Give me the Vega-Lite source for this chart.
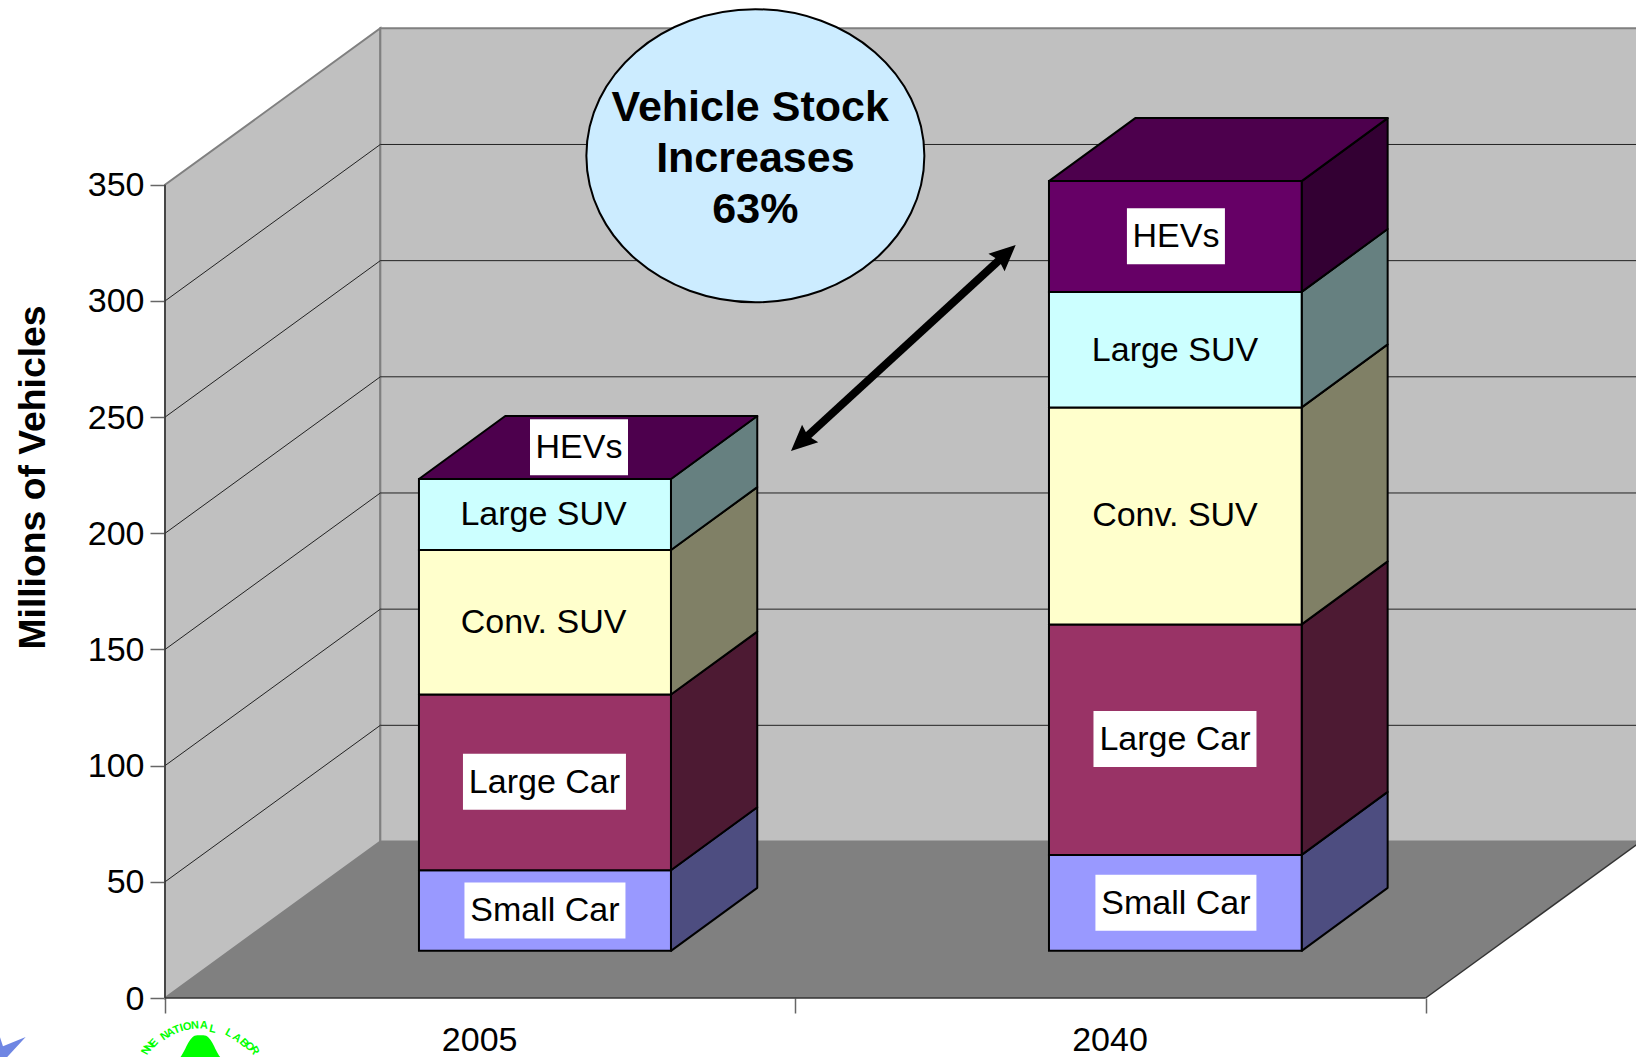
{
"$schema":"https://vega.github.io/schema/vega-lite/v6.json",
"width":1471,"height":998,
"autosize":{"type":"none"},
"padding":{"left":165,"top":0,"right":0,"bottom":59},
"background":"white",
"config":{"view":{"stroke":null},"font":"Liberation Sans","axis":{"grid":false}},
"datasets":{
"walls":[
{"wall":"left","x":0,"lo":0,"hi":350},{"wall":"left","x":0.3416,"lo":67.36,"hi":417.36},
{"wall":"back","x":0.3416,"lo":67.36,"hi":417.36},{"wall":"back","x":2.3416,"lo":67.36,"hi":417.36}],
"floor":[{"x":0,"lo":0,"hi":0},{"x":0.3416,"lo":0,"hi":67.36},{"x":2,"lo":0,"hi":67.36},{"x":2.3416,"lo":67.36,"hi":67.36}],
"grid":[
{"x":0,"x2":0.3416,"y":50,"y2":117.36},{"x":0.3416,"x2":2.3416,"y":117.36,"y2":117.36},
{"x":0,"x2":0.3416,"y":100,"y2":167.36},{"x":0.3416,"x2":2.3416,"y":167.36,"y2":167.36},
{"x":0,"x2":0.3416,"y":150,"y2":217.36},{"x":0.3416,"x2":2.3416,"y":217.36,"y2":217.36},
{"x":0,"x2":0.3416,"y":200,"y2":267.36},{"x":0.3416,"x2":2.3416,"y":267.36,"y2":267.36},
{"x":0,"x2":0.3416,"y":250,"y2":317.36},{"x":0.3416,"x2":2.3416,"y":317.36,"y2":317.36},
{"x":0,"x2":0.3416,"y":300,"y2":367.36},{"x":0.3416,"x2":2.3416,"y":367.36,"y2":367.36}],
"edges":[{"x":0,"x2":0,"y":0,"y2":350},{"x":0,"x2":2,"y":0,"y2":0},{"x":2,"x2":2.3416,"y":0,"y2":67.36}],
"front":[
{"year":"2005","type":"Small Car","xL":0.4029,"xR":0.8027,"lo":20.3,"hi":55.0},
{"year":"2005","type":"Large Car","xL":0.4029,"xR":0.8027,"lo":55.0,"hi":130.6},
{"year":"2005","type":"Conv. SUV","xL":0.4029,"xR":0.8027,"lo":130.6,"hi":192.8},
{"year":"2005","type":"Large SUV","xL":0.4029,"xR":0.8027,"lo":192.8,"hi":223.4},
{"year":"2040","type":"Small Car","xL":1.4024,"xR":1.8033,"lo":20.3,"hi":61.6},
{"year":"2040","type":"Large Car","xL":1.4024,"xR":1.8033,"lo":61.6,"hi":160.8},
{"year":"2040","type":"Conv. SUV","xL":1.4024,"xR":1.8033,"lo":160.8,"hi":254.2},
{"year":"2040","type":"Large SUV","xL":1.4024,"xR":1.8033,"lo":254.2,"hi":303.9},
{"year":"2040","type":"HEVs","xL":1.4024,"xR":1.8033,"lo":303.9,"hi":351.6}],
"side":[
{"year":"2005","type":"Small Car","x":0.8027,"lo":20.3,"hi":55.0},{"year":"2005","type":"Small Car","x":0.9396,"lo":47.4,"hi":82.1},
{"year":"2005","type":"Large Car","x":0.8027,"lo":55.0,"hi":130.6},{"year":"2005","type":"Large Car","x":0.9396,"lo":82.1,"hi":157.7},
{"year":"2005","type":"Conv. SUV","x":0.8027,"lo":130.6,"hi":192.8},{"year":"2005","type":"Conv. SUV","x":0.9396,"lo":157.7,"hi":219.9},
{"year":"2005","type":"Large SUV","x":0.8027,"lo":192.8,"hi":223.4},{"year":"2005","type":"Large SUV","x":0.9396,"lo":219.9,"hi":250.5},
{"year":"2040","type":"Small Car","x":1.8033,"lo":20.3,"hi":61.6},{"year":"2040","type":"Small Car","x":1.9397,"lo":47.4,"hi":88.7},
{"year":"2040","type":"Large Car","x":1.8033,"lo":61.6,"hi":160.8},{"year":"2040","type":"Large Car","x":1.9397,"lo":88.7,"hi":187.9},
{"year":"2040","type":"Conv. SUV","x":1.8033,"lo":160.8,"hi":254.2},{"year":"2040","type":"Conv. SUV","x":1.9397,"lo":187.9,"hi":281.3},
{"year":"2040","type":"Large SUV","x":1.8033,"lo":254.2,"hi":303.9},{"year":"2040","type":"Large SUV","x":1.9397,"lo":281.3,"hi":331.0},
{"year":"2040","type":"HEVs","x":1.8033,"lo":303.9,"hi":351.6},{"year":"2040","type":"HEVs","x":1.9397,"lo":331.0,"hi":378.7}],
"top":[
{"year":"2005","x":0.4029,"lo":223.4,"hi":223.4},{"year":"2005","x":0.5398,"lo":223.4,"hi":250.5},{"year":"2005","x":0.8027,"lo":223.4,"hi":250.5},{"year":"2005","x":0.9396,"lo":250.5,"hi":250.5},
{"year":"2040","x":1.4024,"lo":351.6,"hi":351.6},{"year":"2040","x":1.5393,"lo":351.6,"hi":378.7},{"year":"2040","x":1.8033,"lo":351.6,"hi":378.7},{"year":"2040","x":1.9397,"lo":378.7,"hi":378.7}],
"labels":[
{"label":"Small Car","x":0.6028,"y":37.7},{"label":"Large Car","x":0.602,"y":93.1},{"label":"Conv. SUV","x":0.6006,"y":161.7},{"label":"Large SUV","x":0.6006,"y":208.4},{"label":"HEVs","x":0.6568,"y":237.0},
{"label":"HEVs","x":1.6038,"y":327.9},{"label":"Large SUV","x":1.6023,"y":279.0},{"label":"Conv. SUV","x":1.6023,"y":208.0},{"label":"Large Car","x":1.6023,"y":111.5},{"label":"Small Car","x":1.6038,"y":41.0}],
"callout":[{"text":"Vehicle Stock","x":0.9284,"y":383.6},{"text":"Increases","x":0.9366,"y":361.6},{"text":"63%","x":0.9366,"y":339.6}],
"logoText":[
{"t":"N","x":-0.0295,"y":-22.6,"a":-61},{"t":"N","x":-0.0238,"y":-21.0,"a":-53},{"t":"E","x":-0.0175,"y":-19.5,"a":-48},
{"t":"N","x":0,"y":-16.4,"a":-35},{"t":"A","x":0.009,"y":-14.9,"a":-28},{"t":"T","x":0.0186,"y":-13.8,"a":-22},{"t":"I","x":0.0265,"y":-13.0,"a":-17},{"t":"O","x":0.0354,"y":-12.4,"a":-12},{"t":"N","x":0.0476,"y":-11.9,"a":-5},{"t":"A","x":0.0619,"y":-11.9,"a":4},{"t":"L","x":0.0757,"y":-13.5,"a":13},
{"t":"L","x":0.1015,"y":-15.2,"a":29},{"t":"A","x":0.1138,"y":-17.3,"a":38},{"t":"B","x":0.1253,"y":-19.5,"a":46},{"t":"O","x":0.1335,"y":-21.0,"a":54},{"t":"R","x":0.1415,"y":-22.6,"a":62}]
},
"layer":[
{"data":{"name":"walls"},"mark":{"type":"area","fill":"#C0C0C0","stroke":"#808080","strokeWidth":2},
 "encoding":{"x":{"field":"x","type":"quantitative","scale":{"domain":[0,2.3337],"nice":false,"zero":false},
   "axis":{"values":[0,0.5,1,1.5,2],"title":null,"domain":false,"grid":false,"tickSize":15,"tickWidth":1.5,"tickColor":"#666666","tickOpacity":{"expr":"datum.value==0.5||datum.value==1.5?0:1"},"labelExpr":"datum.value==0.5?'2005':datum.value==1.5?'2040':''","labelFontSize":34,"labelColor":"black","labelFont":"Liberation Sans","labelOverlap":false,"labelPadding":10,"labelOffset":-1,"labelFlush":false}},
  "y":{"field":"lo","type":"quantitative","stack":null,"scale":{"domain":[0,429.54],"nice":false},
   "axis":{"values":[0,50,100,150,200,250,300,350],"domain":false,"grid":false,"tickSize":15,"tickWidth":1.5,"tickColor":"#666666","labelFontSize":34,"labelColor":"black","labelFont":"Liberation Sans","labelPadding":6,"labelOffset":1,"title":"Millions of Vehicles","titleFont":"Liberation Sans","titleFontSize":37.3,"titleFontWeight":"bold","titleColor":"black","titleX":-132,"titleY":477,"titleAnchor":"middle","titleBaseline":"middle","titleAngle":-90}},
  "y2":{"field":"hi"},"detail":{"field":"wall"}}},
{"data":{"name":"floor"},"mark":{"type":"area","fill":"#808080"},
 "encoding":{"x":{"field":"x","type":"quantitative"},"y":{"field":"lo","type":"quantitative","stack":null},"y2":{"field":"hi"}}},
{"data":{"name":"grid"},"mark":{"type":"rule","color":"#222222","strokeWidth":1},
 "encoding":{"x":{"field":"x","type":"quantitative"},"x2":{"field":"x2"},"y":{"field":"y","type":"quantitative"},"y2":{"field":"y2"}}},
{"data":{"name":"edges"},"mark":{"type":"rule","color":"#333333","strokeWidth":1.5},
 "encoding":{"x":{"field":"x","type":"quantitative"},"x2":{"field":"x2"},"y":{"field":"y","type":"quantitative"},"y2":{"field":"y2"}}},
{"data":{"name":"side"},"mark":{"type":"area","stroke":"black","strokeWidth":2,"strokeJoin":"round"},
 "encoding":{"x":{"field":"x","type":"quantitative"},"y":{"field":"lo","type":"quantitative","stack":null},"y2":{"field":"hi"},"detail":{"field":"year"},
  "color":{"field":"type","type":"nominal","legend":null,"scale":{"domain":["Small Car","Large Car","Conv. SUV","Large SUV","HEVs"],"range":["#4D4D80","#4D1A33","#808066","#668080","#330033"]}}}},
{"data":{"name":"top"},"mark":{"type":"area","fill":"#4D004D","stroke":"black","strokeWidth":2,"strokeJoin":"round"},
 "encoding":{"x":{"field":"x","type":"quantitative"},"y":{"field":"lo","type":"quantitative","stack":null},"y2":{"field":"hi"},"detail":{"field":"year"}}},
{"data":{"name":"front"},"mark":{"type":"rect","stroke":"black","strokeWidth":2},
 "encoding":{"x":{"field":"xL","type":"quantitative"},"x2":{"field":"xR"},"y":{"field":"lo","type":"quantitative"},"y2":{"field":"hi"},
  "color":{"field":"type","type":"nominal","legend":null,"scale":{"domain":["Small Car","Large Car","Conv. SUV","Large SUV","HEVs"],"range":["#9999FF","#993366","#FFFFCC","#CCFFFF","#660066"]}}}},
{"data":{"name":"labels"},"transform":[{"filter":"datum.label=='HEVs'"}],"mark":{"type":"rect","fill":"white","width":98,"height":56},
 "encoding":{"x":{"field":"x","type":"quantitative"},"y":{"field":"y","type":"quantitative"}}},
{"data":{"name":"labels"},"transform":[{"filter":"datum.label=='Large Car'"}],"mark":{"type":"rect","fill":"white","width":163,"height":56},
 "encoding":{"x":{"field":"x","type":"quantitative"},"y":{"field":"y","type":"quantitative"}}},
{"data":{"name":"labels"},"transform":[{"filter":"datum.label=='Small Car'"}],"mark":{"type":"rect","fill":"white","width":161,"height":56},
 "encoding":{"x":{"field":"x","type":"quantitative"},"y":{"field":"y","type":"quantitative"}}},
{"data":{"name":"labels"},"mark":{"type":"text","fontSize":34,"font":"Liberation Sans","color":"black","align":"center","baseline":"middle","dy":1},
 "encoding":{"x":{"field":"x","type":"quantitative"},"y":{"field":"y","type":"quantitative"},"text":{"field":"label"}}},
{"data":{"values":[{"x":0.9366,"y":362.5}]},"mark":{"type":"point","filled":false,"fill":"#CCECFF","fillOpacity":1,"stroke":"black","strokeWidth":2,"opacity":1,"size":114244,"shape":"M -1 0 A 1 0.867 0 1 1 1 0 A 1 0.867 0 1 1 -1 0 Z"},
 "encoding":{"x":{"field":"x","type":"quantitative"},"y":{"field":"y","type":"quantitative"}}},
{"data":{"name":"callout"},"mark":{"type":"text","fontSize":43,"fontWeight":"bold","font":"Liberation Sans","color":"black","align":"center","baseline":"middle","dy":1},
 "encoding":{"x":{"field":"x","type":"quantitative"},"y":{"field":"y","type":"quantitative"},"text":{"field":"text"}}},
{"data":{"values":[{"x":1.0048,"y":238.3,"x2":1.3379,"y2":321.2}]},"mark":{"type":"rule","color":"black","strokeWidth":8},
 "encoding":{"x":{"field":"x","type":"quantitative"},"x2":{"field":"x2"},"y":{"field":"y","type":"quantitative"},"y2":{"field":"y2"}}},
{"data":{"values":[{"x":1.3496,"y":324.1}]},"mark":{"type":"point","filled":true,"color":"black","opacity":1,"size":676,"angle":47.5,"shape":"M 0 0 L 0.92 2 L 0 1.75 L -0.92 2 Z"},
 "encoding":{"x":{"field":"x","type":"quantitative"},"y":{"field":"y","type":"quantitative"}}},
{"data":{"values":[{"x":0.9931,"y":235.4}]},"mark":{"type":"point","filled":true,"color":"black","opacity":1,"size":676,"angle":227.5,"shape":"M 0 0 L 0.92 2 L 0 1.75 L -0.92 2 Z"},
 "encoding":{"x":{"field":"x","type":"quantitative"},"y":{"field":"y","type":"quantitative"}}},
{"data":{"values":[{"x":-0.2618,"y":-25.5}]},"mark":{"type":"point","filled":true,"color":"#6F86E3","opacity":1,"size":4,"shape":"M 0 -20 L 3 -11 L 25.7 -20.3 L 7 0 L 0 0 Z"},
 "encoding":{"x":{"field":"x","type":"quantitative"},"y":{"field":"y","type":"quantitative"}}},
{"data":{"values":[{"x":0.0561,"y":-25.5}]},"mark":{"type":"point","filled":true,"color":"#00FF00","opacity":1,"size":4,"shape":"M -20 0 C -14 -8 -11 -22 -3 -22 L 3 -22 C 11 -22 14 -8 20 0 Z"},
 "encoding":{"x":{"field":"x","type":"quantitative"},"y":{"field":"y","type":"quantitative"}}},
{"data":{"name":"logoText"},"mark":{"type":"text","fontSize":11,"fontWeight":"bold","font":"Liberation Sans","color":"#00FF00","align":"center","baseline":"middle"},
 "encoding":{"x":{"field":"x","type":"quantitative"},"y":{"field":"y","type":"quantitative"},"text":{"field":"t"},"angle":{"field":"a","type":"quantitative","scale":null}}}
],
"resolve":{"scale":{"color":"independent"}}
}
